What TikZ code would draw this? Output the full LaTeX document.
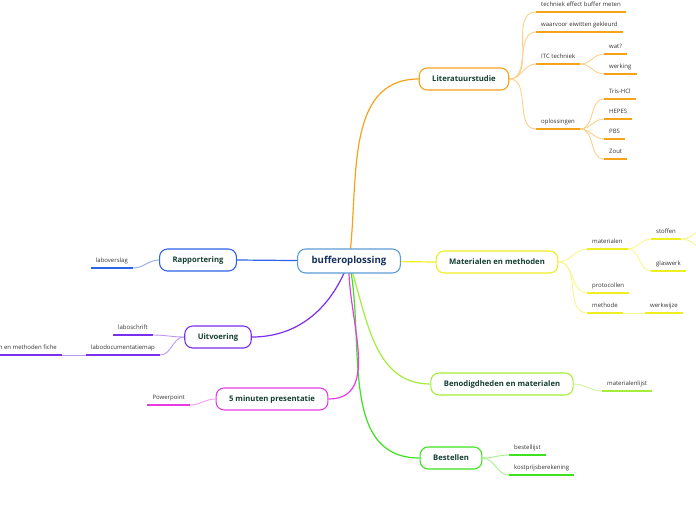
\documentclass[tikz,border=0pt]{standalone}
\usepackage{fontspec}
\setmainfont{Open Sans}
\usetikzlibrary{backgrounds}
\usepackage{xcolor}
% branch colours: full tint for boxes and underlines, light tint for the links
\definecolor{rootc}{HTML}{5B9BD5}
\definecolor{litc}{HTML}{F7A21B}  \definecolor{litl}{HTML}{FCD08C}
\definecolor{matc}{HTML}{EEEE22}  \definecolor{matl}{HTML}{F7F78E}
\definecolor{benc}{HTML}{A4EE3A}  \definecolor{benl}{HTML}{CEF59A}
\definecolor{besc}{HTML}{3EE21E}  \definecolor{besl}{HTML}{A6F090}
\definecolor{rapc}{HTML}{2D63E8}  \definecolor{rapl}{HTML}{92AAF2}
\definecolor{uitc}{HTML}{7A2EF0}  \definecolor{uitl}{HTML}{BB98F6}
\definecolor{prec}{HTML}{E63CE6}  \definecolor{prel}{HTML}{F29CF2}
\definecolor{topictext}{HTML}{143F33}
\definecolor{roottext}{HTML}{15305C}
\definecolor{leaftext}{HTML}{333333}

\tikzset{
 topic/.style={draw, rounded corners=8pt, fill=white, line width=1.1pt,
   minimum height=22pt, inner xsep=13pt, text=topictext,
   font=\bfseries\fontsize{7.7}{9}\selectfont},
 leaf/.style={inner xsep=5pt, inner ysep=3.5pt, text height=4.3pt, text depth=1.5pt,
   text=leaftext, font=\fontsize{6}{7}\selectfont},
 link/.style={line width=0.9pt},
 bough/.style={line width=1.2pt}
}

\begin{document}
\begin{tikzpicture}
\useasboundingbox (0,0) rectangle (696pt,-520pt);
\begin{scope}[x=1pt,y=1pt]

% central topic and main branches
\node[topic, draw=rootc, text=roottext, minimum height=24pt, inner xsep=14pt,
  font=\bfseries\fontsize{9.6}{11}\selectfont] (root) at (349,-261) {bufferoplossing};
\node[topic, draw=litc] (lit) at (464,-79) {Literatuurstudie};
\node[topic, draw=matc] (mat) at (497,-262) {Materialen en methoden};
\node[topic, draw=benc] (ben) at (502,-384) {Benodigdheden en materialen};
\node[topic, draw=besc] (bes) at (451,-458) {Bestellen};
\node[topic, draw=rapc] (rap) at (198,-260) {Rapportering};
\node[topic, draw=uitc] (uit) at (218,-337) {Uitvoering};
\node[topic, draw=prec] (pre) at (272,-399) {5 minuten presentatie};

% leaves on the right
\node[leaf, anchor=south west] (t1) at (536,-12) {techniek effect buffer meten};
\node[leaf, anchor=south west] (t2) at (536,-32) {waarvoor eiwitten gekleurd};
\node[leaf, anchor=south west] (itc) at (536,-64) {ITC techniek};
\node[leaf, anchor=south west] (wat) at (604,-54) {wat?};
\node[leaf, anchor=south west] (werk) at (604,-74) {werking};
\node[leaf, anchor=south west] (opl) at (536,-129) {oplossingen};
\node[leaf, anchor=south west] (tris) at (604,-99) {Tris-HCl};
\node[leaf, anchor=south west] (hepes) at (604,-119) {HEPES};
\node[leaf, anchor=south west] (pbs) at (604,-139) {PBS};
\node[leaf, anchor=south west] (zout) at (604,-159) {Zout};
\node[leaf, anchor=south west] (mtl) at (587,-249) {materialen};
\node[leaf, anchor=south west] (stof) at (651,-239) {stoffen};
\node[leaf, anchor=south west] (glas) at (651,-271) {glaswerk};
\node[leaf, anchor=south west] (prot) at (587,-293) {protocollen};
\node[leaf, anchor=south west] (meth) at (587,-313) {methode};
\node[leaf, anchor=south west] (wkw) at (645,-313) {werkwijze};
\node[leaf, anchor=south west] (mlijst) at (602,-391) {materialenlijst};
\node[leaf, anchor=south west] (blijst) at (509,-455) {bestellijst};
\node[leaf, anchor=south west] (kost) at (509,-475) {kostprijsberekening};
\coordinate (stofa) at (716,-222);
\coordinate (stofb) at (716,-256);

% leaves on the left
\node[leaf, anchor=south east] (lv) at (133,-268) {laboverslag};
\node[leaf, anchor=south east] (ls) at (153,-335) {laboschrift};
\node[leaf, anchor=south east] (ldm) at (160,-355) {labodocumentatiemap};
\node[leaf, anchor=south east] (fiche) at (62,-355) {Materialen en methoden fiche};
\node[leaf, anchor=south east] (ppt) at (190,-405) {Powerpoint};

% underlines
\foreach \n/\c in {t1/litc,t2/litc,itc/litc,wat/litc,werk/litc,opl/litc,tris/litc,
  hepes/litc,pbs/litc,zout/litc,mtl/matc,stof/matc,glas/matc,prot/matc,meth/matc,
  wkw/matc,mlijst/benc,blijst/besc,kost/besc,lv/rapc,ls/uitc,ldm/uitc,fiche/uitc,ppt/prec}
  \draw[\c, bough] (\n.south west) -- (\n.south east);

\begin{scope}[on background layer]
% main boughs
\draw[litc, bough] (root.center) to[out=82,in=180] (lit.west);
\draw[matc, bough] (root.center) -- (mat.west);
\draw[benc, bough] (root.center) to[out=-72,in=180] (ben.west);
\draw[besc, bough] (root.center) to[out=-78,in=180] (bes.west);
\draw[rapc, bough] (root.center) -- (rap.east);
\draw[uitc, bough] (root.center) to[out=-110,in=0] (uit.east);
\draw[prec, bough] (root.center) to[out=-93,in=0] (pre.east);

% links to the leaves
\foreach \n in {t1,t2,itc,opl}
  \draw[litl, link] (lit.east) to[out=0,in=180] (\n.south west);
\foreach \n in {wat,werk}
  \draw[litl, link] (itc.south east) to[out=0,in=180] (\n.south west);
\foreach \n in {tris,hepes,pbs,zout}
  \draw[litl, link] (opl.south east) to[out=0,in=180] (\n.south west);
\foreach \n in {mtl,prot,meth}
  \draw[matl, link] (mat.east) to[out=0,in=180] (\n.south west);
\foreach \n in {stof,glas}
  \draw[matl, link] (mtl.south east) to[out=0,in=180] (\n.south west);
\draw[matl, link] (stof.south east) to[out=0,in=180] (stofa);
\draw[matl, link] (stof.south east) to[out=0,in=180] (stofb);
\draw[matl, link] (meth.south east) -- (wkw.south west);
\draw[benl, link] (ben.east) to[out=0,in=180] (mlijst.south west);
\foreach \n in {blijst,kost}
  \draw[besl, link] (bes.east) to[out=0,in=180] (\n.south west);
\draw[rapl, link] (rap.west) to[out=180,in=0] (lv.south east);
\foreach \n in {ls,ldm}
  \draw[uitl, link] (uit.west) to[out=180,in=0] (\n.south east);
\draw[uitl, link] (ldm.south west) -- (fiche.south east);
\draw[prel, link] (pre.west) to[out=180,in=0] (ppt.south east);
\end{scope}

\end{scope}
\end{tikzpicture}
\end{document}
